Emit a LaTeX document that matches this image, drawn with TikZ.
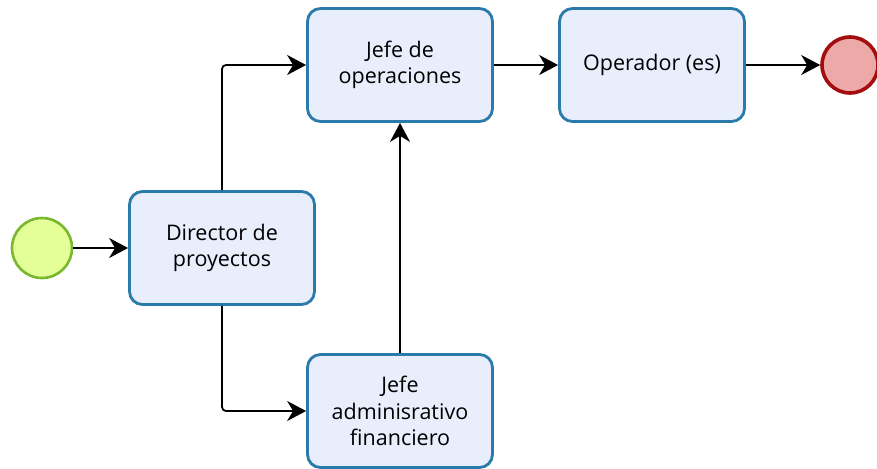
\documentclass[tikz,border=0pt]{standalone}
\usepackage{fontspec}
\setmainfont{Open Sans}
\usetikzlibrary{arrows.meta,positioning}
\definecolor{taskblue}{HTML}{2B7BAA}
\definecolor{taskfill}{HTML}{E9EEFC}
\definecolor{startgreen}{HTML}{79B72C}
\definecolor{startfill}{HTML}{E4FE98}
\definecolor{endred}{HTML}{A30D0D}
\definecolor{endfill}{HTML}{EDA8A8}

\begin{document}
\begin{tikzpicture}[
  x=1pt, y=-1pt,
  font=\fontsize{21.5}{26.5}\selectfont,
  >={Stealth[length=19pt,width=20pt,inset=6pt]},
  task/.style={
    draw=taskblue,
    line width=2.8pt,
    fill=taskfill,
    rounded corners=13pt,
    align=center,
    minimum width=185pt,
    minimum height=113pt,
    inner sep=0pt
  },
  startevent/.style={circle,draw=startgreen,fill=startfill,line width=2.6pt,minimum size=60pt,inner sep=0pt},
  endevent/.style={circle,draw=endred,fill=endfill,line width=3.6pt,minimum size=56pt,inner sep=0pt},
  flow/.style={->,line width=1.8pt,draw=black}
]
  \useasboundingbox (0,0) rectangle (877,468);

  \node[startevent] (inicio) at (42,248) {};

  \node[task] (director) at (222,248) {Director de\\proyectos};

  \node[task] (operaciones) at (400,65) {Jefe de\\operaciones};

  \node[task] (operador) at (652,65) {Operador (es)};

  \node[task] (administrativo) at (400,411) {Jefe\\adminisrativo\\financiero};

  \node[endevent] (fin) at (850,65) {};

  \draw[flow] (inicio) -- (director);
  \draw[flow,rounded corners=4pt] (director.north) |- (operaciones.west);
  \draw[flow,rounded corners=4pt] (director.south) |- (administrativo.west);
  \draw[flow] (administrativo) -- (operaciones);
  \draw[flow] (operaciones) -- (operador);
  \draw[flow] (operador) -- (fin);
\end{tikzpicture}
\end{document}
